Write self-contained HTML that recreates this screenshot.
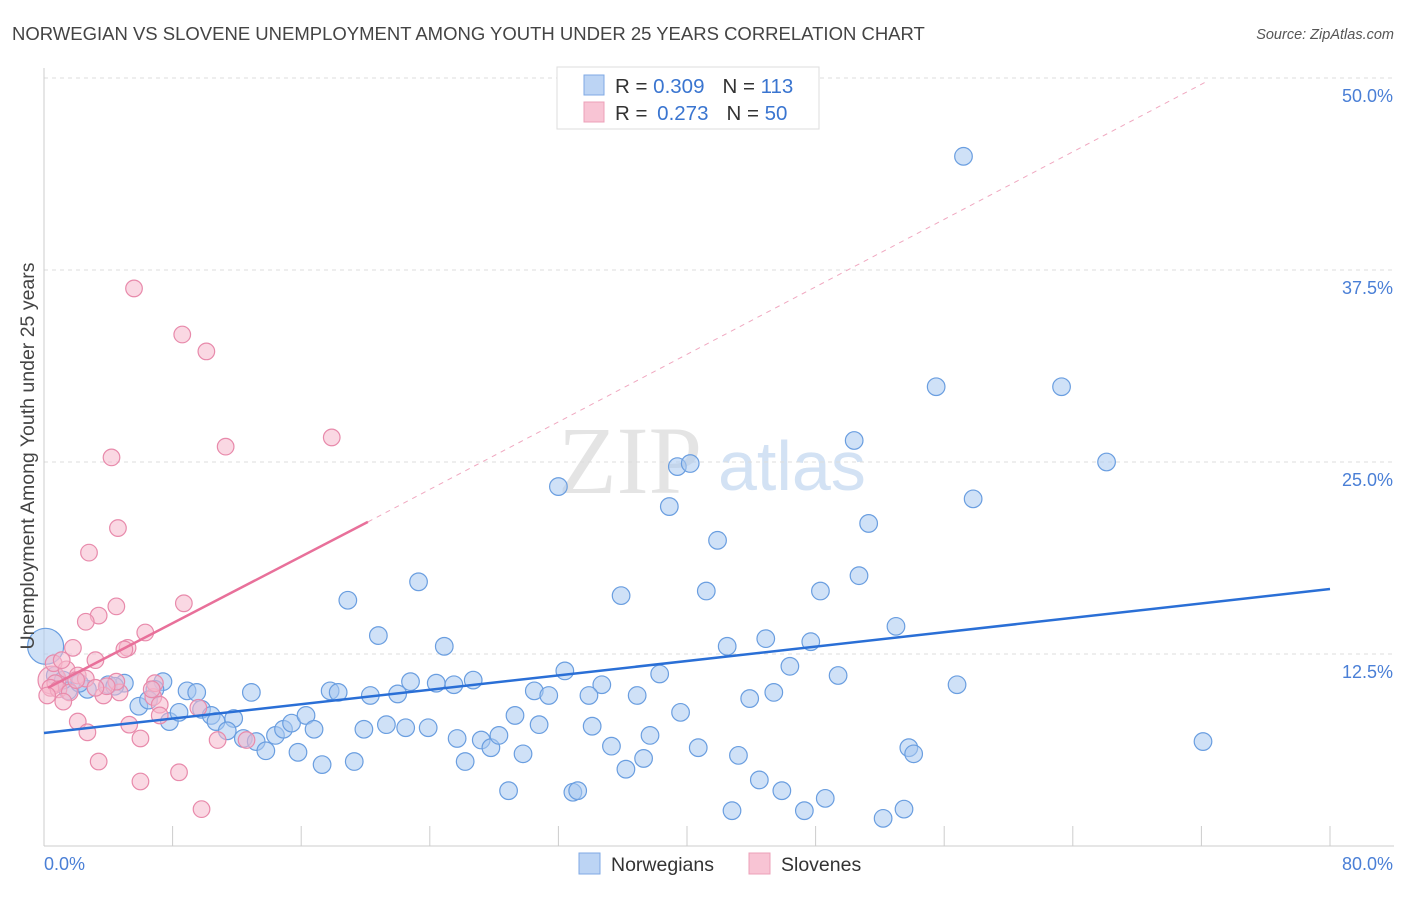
<!DOCTYPE html>
<html><head><meta charset="utf-8"><style>
body{margin:0;background:#fff;font-family:"Liberation Sans",sans-serif}
svg text{font-family:"Liberation Sans",sans-serif}
</style></head><body>
<svg width="1406" height="892" viewBox="0 0 1406 892">
<text x="12" y="40" font-size="18.5" fill="#444">NORWEGIAN VS SLOVENE UNEMPLOYMENT AMONG YOUTH UNDER 25 YEARS CORRELATION CHART</text>
<text x="1394" y="39" font-size="14.5" fill="#555" font-style="italic" text-anchor="end">Source: ZipAtlas.com</text>
<g>
<text x="558" y="493" font-size="96" fill="#e4e4e4" font-family="Liberation Serif, serif" style="font-family:'Liberation Serif',serif">ZIP</text>
<text x="718" y="490" font-size="70" fill="#d3e2f4">atlas</text>
</g>
<g id="grid"></g>
<g id="axes"></g>
<g id="marks"></g>
<g id="lines"></g>
<text x="34" y="456" font-size="19.5" fill="#444" text-anchor="middle" transform="rotate(-90 34 456)">Unemployment Among Youth under 25 years</text>
<text x="44" y="870" font-size="18" fill="#4a7fd6">0.0%</text>
<text x="1393" y="870" font-size="18" fill="#4a7fd6" text-anchor="end">80.0%</text>
<g>
<rect x="557" y="67" width="262" height="62" fill="#fff" stroke="#ddd"/>
<rect x="584" y="75" width="20" height="20" fill="#bcd4f4" stroke="#7fa9e4"/>
<rect x="584" y="102" width="20" height="20" fill="#f8c4d4" stroke="#eca0b8"/>
<text x="615" y="93" font-size="20.5" fill="#333">R = <tspan fill="#3a75d0">0.309</tspan><tspan dx="18">N = </tspan><tspan fill="#3a75d0">113</tspan></text>
<text x="615" y="120" font-size="20.5" fill="#333">R = <tspan fill="#3a75d0" dx="4">0.273</tspan><tspan dx="18">N = </tspan><tspan fill="#3a75d0">50</tspan></text>
</g>
<g>
<rect x="579" y="853" width="21" height="21" fill="#bcd4f4" stroke="#7fa9e4"/>
<text x="611" y="871" font-size="19.5" fill="#333">Norwegians</text>
<rect x="749" y="853" width="21" height="21" fill="#f8c4d4" stroke="#eca0b8"/>
<text x="781" y="871" font-size="19.5" fill="#333">Slovenes</text>
</g>
</svg>
<script>
const yTicks=[12.5,25,37.5,50];
const yTickLabels=["12.5%","25.0%","37.5%","50.0%"];
const xTicks=[0,8,16,24,32,40,48,56,64,72,80];
const blueX=[57.2,55.5,63.3,50.4,66.1,32.0,39.4,40.2,38.9,57.8,51.3,41.9,23.3,50.7,18.9,35.9,41.2,48.3,53.0,20.8,44.9,47.7,42.5,24.9,32.4,38.3,46.4,49.4,56.8,22.8,24.4,25.5,26.7,34.7,30.5,31.4,33.9,36.9,45.4,43.9,17.8,18.3,20.3,22.0,12.9,8.9,9.5,7.4,6.9,5.0,4.0,4.4,2.7,1.5,2.2,0.7,1.2,5.9,6.5,7.8,8.4,9.8,10.4,10.7,11.8,11.4,12.4,13.2,13.8,14.4,14.9,15.4,16.3,16.8,15.8,17.3,19.3,19.9,21.3,22.5,23.9,25.7,26.2,27.2,27.8,28.3,29.3,29.8,30.8,28.9,32.9,33.2,34.1,35.3,36.2,37.3,37.7,39.6,40.7,43.2,44.5,45.9,42.8,47.3,48.6,52.2,53.5,53.8,54.1,72.1];
const blueY=[44.9,29.9,29.9,26.4,25.0,23.4,24.7,24.9,22.1,22.6,21.0,19.9,17.2,17.6,16.0,16.3,16.6,16.6,14.3,13.7,13.5,13.3,13.0,13.0,11.4,11.2,11.7,11.1,10.5,10.7,10.6,10.5,10.8,10.5,10.1,9.8,9.8,9.8,10.0,9.6,10.1,10.0,9.8,9.9,10.0,10.1,10.0,10.7,10.2,10.6,10.5,10.4,10.2,10.1,10.6,11.1,10.8,9.1,9.5,8.1,8.7,8.9,8.5,8.1,8.3,7.5,7.0,6.8,6.2,7.2,7.6,8.0,8.5,7.6,6.1,5.3,5.5,7.6,7.9,7.7,7.7,7.0,5.5,6.9,6.4,7.2,8.5,6.0,7.9,3.6,3.5,3.6,7.8,6.5,5.0,5.7,7.2,8.7,6.4,5.9,4.3,3.6,2.3,2.3,3.1,1.8,2.4,6.4,6.0,6.8];
const pinkX=[5.6,8.6,10.1,17.9,11.3,4.2,4.6,2.8,8.7,4.5,3.4,2.6,6.3,5.2,5.0,1.8,3.2,0.6,1.4,2.1,2.6,0.7,0.4,0.9,1.6,3.7,4.7,6.8,6.9,7.2,9.6,1.2,2.1,2.7,5.3,7.2,6.0,10.8,12.6,3.4,6.0,8.4,9.8,4.5,3.9,6.7,0.2,1.1,2.0,3.2];
const pinkY=[36.3,33.3,32.2,26.6,26.0,25.3,20.7,19.1,15.8,15.6,15.0,14.6,13.9,12.9,12.8,12.9,12.1,11.9,11.5,11.1,10.9,10.6,10.3,10.2,10.0,9.8,10.0,9.7,10.6,9.2,9.0,9.4,8.1,7.4,7.9,8.5,7.0,6.9,6.9,5.5,4.2,4.8,2.4,10.7,10.4,10.2,9.8,12.1,10.8,10.3];
const bigBlue=[0.1,13.0], bigPink=[0.5,10.8];
const blueTrend=[[0,7.36],[80,16.73]];
const pinkTrend=[[0.25,10.3],[20.15,21.1]];
const pinkDash=[[20.15,21.1],[72.2,49.7]];
const X0=44,X1=1330,Y0=846,Y1=78;
const sx=v=>X0+(X1-X0)*v/80, sy=v=>Y0-(Y0-Y1)*v/50;
const NS="http://www.w3.org/2000/svg";
function mk(t,a,p){const e=document.createElementNS(NS,t);for(const k in a)e.setAttribute(k,a[k]);p.appendChild(e);return e;}
const grid=document.getElementById('grid'),axes=document.getElementById('axes'),marks=document.getElementById('marks'),lines=document.getElementById('lines');
yTicks.forEach((t,i)=>{
 const l=mk('line',{x1:X0,x2:1394,y1:sy(t),y2:sy(t),stroke:'#ddd','stroke-dasharray':'4,4'},grid);
 
 
 const tx=mk('text',{x:1393,y:sy(t)+24,'font-size':18,fill:'#4a7fd6','text-anchor':'end'},axes);
 tx.textContent=yTickLabels[i];
 
 
});
const xa=mk('line',{x1:X0,x2:1394,y1:Y0,y2:Y0,stroke:'#ccc'},axes);


const ya=mk('line',{x1:X0,x2:X0,y1:68,y2:Y0,stroke:'#ccc'},axes);


xTicks.forEach(t=>{
 const l=mk('line',{x1:sx(t),x2:sx(t),y1:Y0,y2:Y0-20,stroke:'#ccc'},axes);
 
 
});
function dot(x,y,r,f,s,name){
 const c=mk('circle',{cx:sx(x),cy:sy(y),r:r,fill:f,'fill-opacity':0.55,stroke:s,'stroke-width':1.2},marks);
 
 
}
dot(bigBlue[0],bigBlue[1],18,'#a8c8f0','#6a9ee0','norwegian-point');
blueX.forEach((x,i)=>dot(x,blueY[i],8.8,'#a8c8f0','#6a9ee0','norwegian-point'));
dot(bigPink[0],bigPink[1],14,'#f5b8cc','#e88aab','slovene-point');
pinkX.forEach((x,i)=>dot(x,pinkY[i],8.3,'#f5b8cc','#e88aab','slovene-point'));
function ln(p,st,w,da,name){
 const a={x1:sx(p[0][0]),y1:sy(p[0][1]),x2:sx(p[1][0]),y2:sy(p[1][1]),stroke:st,'stroke-width':w};
 if(da)a['stroke-dasharray']=da;
 const l=mk('line',a,lines);
 
 
}
ln(pinkDash,'#f0a8c0',1,'5,5','slovene-trend-extension');
ln(blueTrend,'#2a6fd6',2.5,null,'norwegian-trend-line');
ln(pinkTrend,'#e8709a',2.5,null,'slovene-trend-line');
</script>
</body></html>
